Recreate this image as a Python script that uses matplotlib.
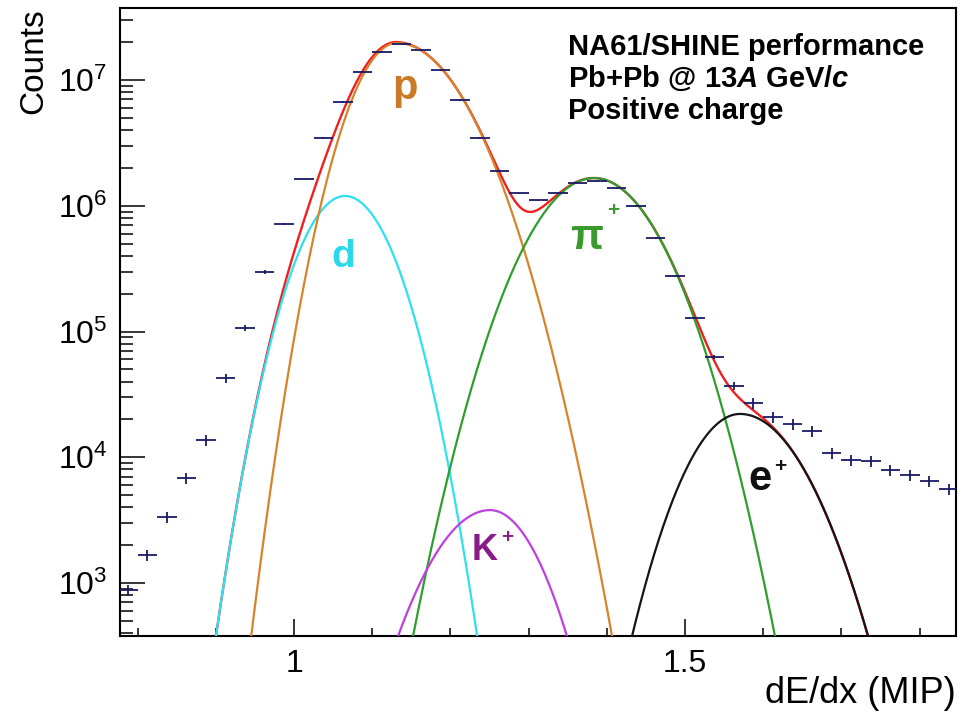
import matplotlib
matplotlib.use("Agg")
import matplotlib.pyplot as plt  # type: ignore
import numpy as np  # type: ignore
from matplotlib.ticker import FuncFormatter, LogLocator, MultipleLocator, NullFormatter  # type: ignore

# measured dE/dx histogram (bin centres in MIP units, bin width 0.025)
dedx = [0.7875, 0.8125, 0.8375, 0.8625, 0.8875, 0.9125, 0.9375, 0.9625, 0.9875,
        1.0125, 1.0375, 1.0625, 1.0875, 1.1125, 1.1375, 1.1625, 1.1875, 1.2125,
        1.2375, 1.2625, 1.2875, 1.3125, 1.3375, 1.3625, 1.3875, 1.4125, 1.4375,
        1.4625, 1.4875, 1.5125, 1.5375, 1.5625, 1.5875, 1.6125, 1.6375, 1.6625,
        1.6875, 1.7125, 1.7375, 1.7625, 1.7875, 1.8125, 1.8375]
counts = [880, 1670, 3350, 6840, 13700, 42700, 106600, 297000, 716000,
          1.63e6, 3.46e6, 6.68e6, 1.16e7, 1.67e7, 1.93e7, 1.73e7, 1.20e7, 6.93e6,
          3.46e6, 1.89e6, 1.26e6, 1.11e6, 1.26e6, 1.52e6, 1.57e6, 1.38e6, 9.96e5,
          5.54e5, 2.76e5, 1.28e5, 62600, 36900, 27000, 20900, 18400, 16200,
          10800, 9510, 9340, 7920, 7230, 6480, 5590]
rel_err = [0.10, 0.10, 0.10, 0.10, 0.10, 0.08, 0.06, 0.03, 0.01,
           0.01, 0.01, 0.01, 0.01, 0.01, 0.01, 0.01, 0.01, 0.01,
           0.01, 0.01, 0.01, 0.01, 0.01, 0.01, 0.01, 0.01, 0.01,
           0.01, 0.01, 0.02, 0.04, 0.08, 0.10, 0.10, 0.10, 0.10,
           0.10, 0.10, 0.10, 0.10, 0.10, 0.10, 0.10]
bin_width = 0.025

# asymmetric gaussian fit components
species = ["d", "p", "K+", "pi+", "e+"]
amplitude = [1.196e6, 1.97e7, 3800, 1.66e6, 22100]
mean = [1.0652, 1.1317, 1.2506, 1.3836, 1.5703]
sigma_left = [0.0411, 0.0400, 0.0547, 0.0565, 0.0484]
sigma_right = [0.0421, 0.0590, 0.0458, 0.0565, 0.0574]
colors = {"d": "#2ee0f0", "p": "#d8832c", "K+": "#bf3fe0", "pi+": "#2e9e2e", "e+": "#151515"}
label_colors = {"d": "#2ad8ea", "p": "#c97a26", "K+": "#8a1c8a", "pi+": "#3a9a2e", "e+": "#111111"}

X_MIN, X_MAX = 0.7775, 1.8465
Y_MIN, Y_MAX = 10 ** 2.5785, 10 ** 7.5726


def asym_gauss(x, a, mu, sl, sr):
    sig = np.where(x < mu, sl, sr)
    return a * np.exp(-0.5 * ((x - mu) / sig) ** 2)


def main():
    plt.rcParams["font.family"] = ["Liberation Sans", "DejaVu Sans"]
    plt.rcParams["mathtext.fontset"] = "custom"
    plt.rcParams["mathtext.rm"] = "Liberation Sans"
    plt.rcParams["mathtext.it"] = "Liberation Sans:italic:bold"
    plt.rcParams["mathtext.bf"] = "Liberation Sans:bold"

    fig = plt.figure(figsize=(9.62, 7.12), dpi=100)
    ax = fig.add_axes([120 / 962, 1 - 636 / 712, 836 / 962, 628 / 712])

    x = np.linspace(X_MIN, X_MAX, 1500)
    comps = {}
    for sp, a, mu, sl, sr in zip(species, amplitude, mean, sigma_left, sigma_right):
        comps[sp] = asym_gauss(x, a, mu, sl, sr)
    total = sum(comps.values())

    ax.plot(x, total, color="#ee2020", lw=1.7, zorder=2)
    for sp in ["d", "p", "pi+", "K+", "e+"]:
        ax.plot(x, comps[sp], color=colors[sp], lw=1.6, zorder=3)

    c = np.array(counts)
    ax.errorbar(dedx, c, xerr=bin_width / 2, yerr=c * np.array(rel_err), fmt="none",
                ecolor="#1a1a66", elinewidth=1.3, capsize=0, zorder=5)

    ax.set_xlim(X_MIN, X_MAX)
    ax.set_yscale("log")
    ax.set_ylim(Y_MIN, Y_MAX)

    ax.xaxis.set_major_locator(MultipleLocator(0.5))
    ax.xaxis.set_minor_locator(MultipleLocator(0.1))
    ax.xaxis.set_major_formatter(FuncFormatter(lambda v, p: "%g" % v))
    ax.yaxis.set_major_locator(LogLocator(base=10))
    ax.yaxis.set_minor_locator(LogLocator(base=10, subs=np.arange(2, 10)))
    ax.yaxis.set_minor_formatter(NullFormatter())
    ax.yaxis.set_major_formatter(FuncFormatter(lambda v, p: r"$10^{%d}$" % round(np.log10(v))))

    ax.tick_params(axis="both", which="both", direction="in", top=False, right=False,
                   width=1.1, labelsize=23, colors="black")
    ax.tick_params(axis="y", which="major", length=18, pad=9)
    ax.tick_params(axis="y", which="minor", length=9.5)
    ax.tick_params(axis="x", which="major", length=12.5, pad=9)
    ax.tick_params(axis="x", which="minor", length=6)
    for s in ax.spines.values():
        s.set_linewidth(1.5)

    ax.set_ylabel("Counts", fontsize=24, loc="top")
    ax.yaxis.set_label_coords(-0.085, 1.0)
    ax.set_xlabel("dE/dx (MIP)", fontsize=26, loc="right")
    ax.xaxis.label.set_va("baseline")
    ax.xaxis.set_label_coords(1.0, -0.107)

    # species labels
    lab = [("p", "p", 1.142, 7.1e6, 30, None),
           ("d", "d", 1.0627, 3.26e5, 28, None),
           ("pi+", "\u03c0", 1.3747, 4.53e5, 31, (1.408, 9.25e5)),
           ("K+", "K", 1.2442, 1524, 26, (1.2724, 2320)),
           ("e+", "e", 1.5959, 5500, 30, (1.6215, 8510))]
    for sp, txt, lx, ly, fs, sup in lab:
        ax.text(lx, ly, txt, color=label_colors[sp], fontsize=fs, fontweight="bold",
                ha="center", va="baseline", zorder=6)
        if sup is not None:
            ax.text(sup[0], sup[1], "+", color=label_colors[sp], fontsize=15,
                    fontweight="bold", ha="center", va="center", zorder=6)

    info = ["NA61/SHINE performance", r"Pb+Pb @ 13$\mathit{A}$ GeV/$\mathit{c}$", "Positive charge"]
    for i, line in enumerate(info):
        fig.text(568 / 962, 1 - (55 + 32 * i) / 712, line, fontsize=21, fontweight="bold",
                 ha="left", va="baseline")

    plt.savefig("out.png", dpi=100)


if __name__ == "__main__":
    main()
